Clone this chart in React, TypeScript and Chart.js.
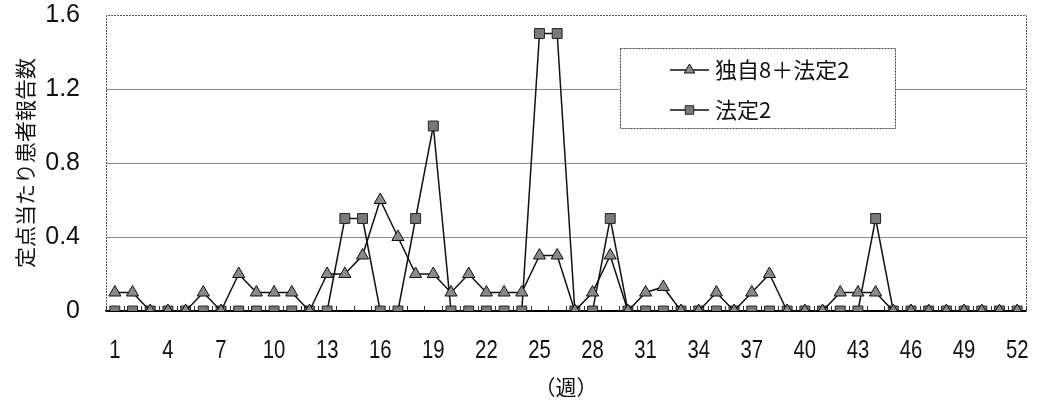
import React, { useEffect, useRef } from "react";
import { Chart, registerables } from "chart.js";

Chart.register(...registerables);

const weeks: string[] = Array.from({ length: 52 }, (_, i) => String(i + 1));

const seriesNames = ["独自8＋法定2", "法定2"];

const dokuji8Houtei2: number[] = [
  0.1, 0.1, 0, 0, 0, 0.1, 0, 0.2, 0.1, 0.1,
  0.1, 0, 0.2, 0.2, 0.3, 0.6, 0.4, 0.2, 0.2, 0.1,
  0.2, 0.1, 0.1, 0.1, 0.3, 0.3, 0, 0.1, 0.3, 0,
  0.1, 0.13, 0, 0, 0.1, 0, 0.1, 0.2, 0, 0,
  0, 0.1, 0.1, 0.1, 0, 0, 0, 0, 0, 0,
  0, 0,
];

const houtei2: number[] = [
  0, 0, 0, 0, 0, 0, 0, 0, 0, 0,
  0, 0, 0, 0.5, 0.5, 0, 0, 0.5, 1.0, 0,
  0, 0, 0, 0, 1.5, 1.5, 0, 0, 0.5, 0,
  0, 0, 0, 0, 0, 0, 0, 0, 0, 0,
  0, 0, 0, 0.5, 0, 0, 0, 0, 0, 0,
  0, 0,
];

const yTickValues = [0, 0.4, 0.8, 1.2, 1.6];
const xLabelEvery = 3;
const yTitle = "定点当たり患者報告数";
const xTitle = "（週）";

const FONT = "'Liberation Sans', Arial, sans-serif";
const CJK = "'Noto Sans CJK JP', sans-serif";

function drawMarker(ctx: CanvasRenderingContext2D, style: string, r: number, x: number, y: number) {
  ctx.beginPath();
  if (style === "triangle") {
    ctx.moveTo(x, y - r);
    ctx.lineTo(x + r * Math.sin(Math.PI / 3), y + r / 2);
    ctx.lineTo(x - r * Math.sin(Math.PI / 3), y + r / 2);
    ctx.closePath();
  } else {
    const s = r * Math.SQRT1_2;
    ctx.rect(x - s, y - s, 2 * s, 2 * s);
  }
  ctx.fill();
  ctx.stroke();
}

const xLabelPlugin = {
  id: "xLabels",
  afterDraw(chart: any) {
    const ctx = chart.ctx;
    const xs = chart.scales.x;
    const area = chart.chartArea;
    ctx.save();
    ctx.fillStyle = "#111";
    ctx.font = `26px ${FONT}`;
    ctx.textAlign = "center";
    ctx.textBaseline = "middle";
    chart.data.labels.forEach((lab: string, i: number) => {
      if (i % xLabelEvery !== 0) return;
      const px = xs.getPixelForValue(i);
      ctx.save();
      ctx.translate(px, area.bottom + 40);
      ctx.scale(0.78, 1);
      ctx.fillText(lab, 0, 0);
      ctx.restore();
    });
    ctx.restore();
  },
};

const insideLegendPlugin = {
  id: "insideLegend",
  afterDatasetsDraw(chart: any) {
    const ctx = chart.ctx;
    const area = chart.chartArea;
    const xs = chart.scales.x;
    ctx.save();
    ctx.strokeStyle = "#333";
    ctx.lineWidth = 1;
    for (let i = 0; i <= chart.data.labels.length; i++) {
      const px = Math.round(xs.getPixelForValue(i - 0.5)) + 0.5;
      ctx.beginPath();
      ctx.moveTo(px, area.bottom);
      ctx.lineTo(px, area.bottom - 5);
      ctx.stroke();
    }
    ctx.restore();

    const left = 620;
    const top = 48;
    const w = 275;
    const h = 80;
    ctx.save();
    ctx.fillStyle = "#ffffff";
    ctx.fillRect(left, top, w, h);
    ctx.strokeStyle = "#444";
    ctx.lineWidth = 1;
    ctx.setLineDash([2, 1]);
    ctx.strokeRect(left + 0.5, top + 0.5, w, h);
    ctx.setLineDash([]);
    chart.data.datasets.forEach((ds: any, i: number) => {
      const cy = top + 22 + i * 40;
      const lx0 = left + 50;
      const lx1 = left + 89;
      ctx.strokeStyle = ds.borderColor;
      ctx.lineWidth = ds.borderWidth;
      ctx.beginPath();
      ctx.moveTo(lx0, cy);
      ctx.lineTo(lx1, cy);
      ctx.stroke();
      ctx.fillStyle = ds.pointBackgroundColor;
      ctx.strokeStyle = ds.pointBorderColor;
      ctx.lineWidth = 1;
      drawMarker(ctx, ds.pointStyle, ds.pointRadius - 1, (lx0 + lx1) / 2, cy);
      ctx.fillStyle = "#111";
      ctx.font = `22px ${CJK}`;
      ctx.textBaseline = "middle";
      ctx.textAlign = "left";
      ctx.fillText(ds.label, lx1 + 6, cy);
    });
    ctx.restore();
  },
};

export default function App() {
  const canvasRef = useRef<HTMLCanvasElement | null>(null);

  useEffect(() => {
    document.body.style.margin = "0";
    const canvas = canvasRef.current;
    if (!canvas) return;
    const chart = new Chart(canvas, {
      type: "line",
      data: {
        labels: weeks,
        datasets: [
          {
            label: seriesNames[0],
            data: dokuji8Houtei2,
            borderColor: "#111111",
            borderWidth: 1.5,
            pointStyle: "triangle",
            pointRadius: 7,
            pointBackgroundColor: "#8a8a8a",
            pointBorderColor: "#111111",
            pointBorderWidth: 1,
            tension: 0,
          },
          {
            label: seriesNames[1],
            data: houtei2,
            borderColor: "#111111",
            borderWidth: 1.5,
            pointStyle: "rect",
            pointRadius: 7,
            pointBackgroundColor: "#7a7a7a",
            pointBorderColor: "#222222",
            pointBorderWidth: 1,
            tension: 0,
          },
        ],
      },
      options: {
        animation: false,
        responsive: false,
        maintainAspectRatio: false,
        layout: { padding: { top: 15, right: 13, left: 0, bottom: 0 } },
        plugins: {
          legend: { display: false },
          tooltip: { enabled: false },
        },
        scales: {
          x: {
            type: "category",
            offset: true,
            grid: { display: false, drawTicks: false },
            border: { display: true, color: "#000", width: 1.5 },
            ticks: { display: false, autoSkip: false },
            title: {
              display: true,
              text: xTitle,
              color: "#111",
              font: { family: CJK, size: 21 },
              padding: { top: 0, bottom: 3 },
            },
            afterFit: (scale: any) => {
              scale.height = 92;
              scale.paddingLeft = 0;
              scale.paddingRight = 0;
            },
          },
          y: {
            min: 0,
            max: 1.6,
            afterBuildTicks: (scale: any) => {
              scale.ticks = yTickValues.map((v) => ({ value: v }));
            },
            grid: {
              color: (c: any) =>
                c.tick && c.tick.value === 0 ? "#000" : c.tick && c.tick.value === 1.6 ? "rgba(0,0,0,0)" : "#8c8c8c",
              lineWidth: 1,
              drawTicks: false,
            },
            border: { display: false },
            ticks: {
              padding: 26,
              color: "#111",
              font: { family: FONT, size: 25 },
              callback: (v: any) => String(Math.round(Number(v) * 10) / 10),
            },
            title: {
              display: true,
              text: yTitle,
              color: "#111",
              font: { family: CJK, size: 21 },
              padding: { top: 12, bottom: 0 },
            },
            afterFit: (scale: any) => {
              scale.width = 106;
              scale.paddingTop = 0;
              scale.paddingBottom = 0;
            },
          },
        },
      },
      plugins: [
        {
          id: "frame",
          beforeDatasetsDraw(chart: any) {
            const { ctx, chartArea: a } = chart;
            ctx.save();
            ctx.strokeStyle = "#555";
            ctx.lineWidth = 1;
            ctx.setLineDash([2, 1]);
            ctx.beginPath();
            ctx.moveTo(a.left + 0.5, a.bottom);
            ctx.lineTo(a.left + 0.5, a.top + 0.5);
            ctx.lineTo(a.right + 0.5, a.top + 0.5);
            ctx.lineTo(a.right + 0.5, a.bottom);
            ctx.stroke();
            ctx.restore();
          },
        },
        insideLegendPlugin,
        xLabelPlugin,
      ],
    } as any);
    return () => chart.destroy();
  }, []);

  return (
    <div style={{ width: 1039, height: 403, background: "#fff" }}>
      <canvas ref={canvasRef} width={1039} height={403} style={{ display: "block" }} />
    </div>
  );
}
